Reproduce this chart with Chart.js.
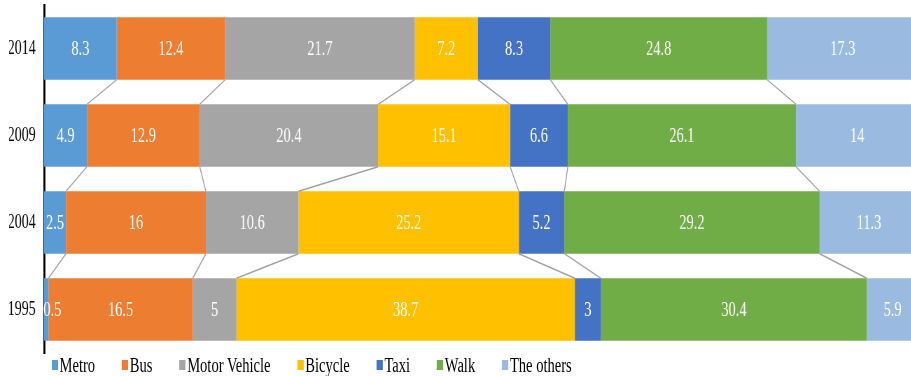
<!DOCTYPE html>
<html>
<head>
<meta charset="utf-8">
<title>Travel mode shares</title>
<script src="https://cdn.jsdelivr.net/npm/chart.js@4.4.1/dist/chart.umd.min.js"></script>
<style>
  html, body { margin: 0; padding: 0; overflow: hidden; background: #fff; width: 911px; height: 376px; }
  /* the chart is laid out wide and drawn with narrow (condensed) lettering */
  #wrap { position: absolute; left: 0; top: 0; width: 1312px; height: 376px; transform: scaleX(0.7); transform-origin: 0 0; }
  #chart { position: absolute; left: 0; top: 0; }
  #legend { position: absolute; left: 74px; top: 354px; display: flex; align-items: center;
            font-family: "Liberation Serif", "Times New Roman", serif; font-size: 20.8px; line-height: 22px;
            color: #000; white-space: nowrap; }
  #legend .item { display: flex; align-items: center; margin-right: 38.6px; }
  #legend .box { width: 8.6px; height: 10px; margin-right: 2.4px; }
</style>
</head>
<body>
<div id="wrap">
  <canvas id="chart" width="1312" height="376"></canvas>
  <div id="legend"></div>
</div>
<script>
// Survey years, top to bottom
const years = ['2014', '2009', '2004', '1995'];

// Travel modes and their colours
const modes = ['Metro', 'Bus', 'Motor Vehicle', 'Bicycle', 'Taxi', 'Walk', 'The others'];
const modeColors = ['#5B9BD5', '#ED7D31', '#A5A5A5', '#FFC000', '#4472C4', '#70AD47', '#9ABAE0'];

// Mode shares (%) per year, in the order of `years`
const metro        = [8.3, 4.9, 2.5, 0.5];
const bus          = [12.4, 12.9, 16, 16.5];
const motorVehicle = [21.7, 20.4, 10.6, 5];
const bicycle      = [7.2, 15.1, 25.2, 38.7];
const taxi         = [8.3, 6.6, 5.2, 3];
const walk         = [24.8, 26.1, 29.2, 30.4];
const others       = [17.3, 14, 11.3, 5.9];

const shares = [metro, bus, motorVehicle, bicycle, taxi, walk, others];

const serif = '"Liberation Serif", "Times New Roman", serif';

// Gray guide lines joining the same segment boundary of neighbouring bars
const connectorLines = {
  id: 'connectorLines',
  afterDatasetsDraw(chart) {
    const ctx = chart.ctx;
    const n = chart.data.labels.length;
    const dsCount = chart.data.datasets.length;
    ctx.save();
    ctx.strokeStyle = '#A0A0A0';
    ctx.lineWidth = 1.4;
    for (let i = 0; i < n - 1; i++) {
      for (let k = 0; k < dsCount - 1; k++) {
        const meta = chart.getDatasetMeta(k);
        const upper = meta.data[i].getProps(['x', 'y', 'height'], true);
        const lower = meta.data[i + 1].getProps(['x', 'y', 'height'], true);
        ctx.beginPath();
        ctx.moveTo(upper.x, upper.y + upper.height / 2);
        ctx.lineTo(lower.x, lower.y - lower.height / 2);
        ctx.stroke();
      }
    }
    ctx.restore();
  }
};

// White value labels centred in every segment, kept inside the plot area
const segmentLabels = {
  id: 'segmentLabels',
  afterDatasetsDraw(chart) {
    const ctx = chart.ctx;
    const left = chart.chartArea.left;
    ctx.save();
    ctx.fillStyle = '#ffffff';
    ctx.font = '20.5px ' + serif;
    ctx.textAlign = 'center';
    ctx.textBaseline = 'middle';
    chart.data.datasets.forEach((ds, k) => {
      chart.getDatasetMeta(k).data.forEach((el, i) => {
        const p = el.getProps(['x', 'base', 'y'], true);
        const text = String(ds.data[i]);
        const half = ctx.measureText(text).width / 2;
        const cx = Math.max((p.x + p.base) / 2, left + half - 1);
        ctx.fillText(text, cx, p.y + 1);
      });
    });
    ctx.restore();
  }
};

const chart = new Chart(document.getElementById('chart'), {
  type: 'bar',
  data: {
    labels: years,
    datasets: modes.map((m, k) => ({
      label: m,
      data: shares[k],
      backgroundColor: modeColors[k],
      borderWidth: 0,
      barPercentage: 0.718,
      categoryPercentage: 1
    }))
  },
  options: {
    indexAxis: 'y',
    responsive: false,
    animation: false,
    layout: { padding: { left: 13, right: 0, top: 5, bottom: 23 } },
    scales: {
      x: { type: 'linear', stacked: true, min: 0, max: 100, display: false },
      y: {
        stacked: true,
        grid: { display: false, drawTicks: false },
        border: { display: true, color: '#000000', width: 2.9 },
        ticks: { color: '#000000', padding: 12, font: { family: serif, size: 20 } },
        afterFit(scale) {
          // fixed axis width; year labels sit in the middle of their bands,
          // so no extra room is needed above or below the plot
          scale.width = 50;
          scale.paddingTop = 0;
          scale.paddingBottom = 0;
        }
      }
    },
    plugins: {
      legend: { display: false },
      tooltip: { enabled: false }
    }
  },
  plugins: [connectorLines, segmentLabels]
});

// Legend row built from the chart's datasets
const legendEl = document.getElementById('legend');
chart.data.datasets.forEach(ds => {
  const item = document.createElement('span');
  item.className = 'item';
  const box = document.createElement('span');
  box.className = 'box';
  box.style.background = ds.backgroundColor;
  const txt = document.createElement('span');
  txt.textContent = ds.label;
  item.appendChild(box);
  item.appendChild(txt);
  legendEl.appendChild(item);
});
</script>
</body>
</html>
